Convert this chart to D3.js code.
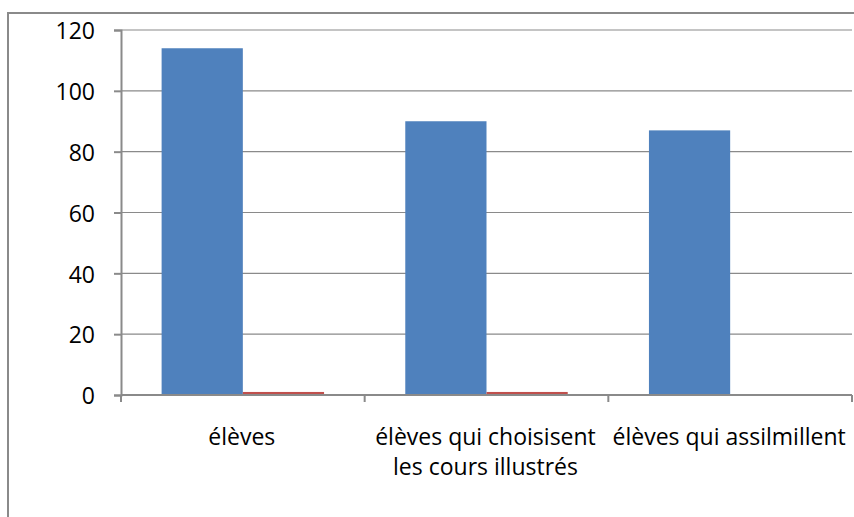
<!DOCTYPE html>
<html>
<head>
<meta charset="utf-8">
<script src="https://cdn.jsdelivr.net/npm/d3@7"></script>
<style>
  body { margin: 0; background: #fff; }
  svg text { font-family: "Open Sans", sans-serif; fill: #000; }
</style>
</head>
<body>
<div id="chart"></div>
<script>
// data
var categories = ["élèves", "élèves qui choisisent les cours illustrés", "élèves qui assilmillent"]
var categoryLines = [["élèves"], ["élèves qui choisisent", "les cours illustrés"], ["élèves qui assilmillent"]]
var series1 = [114, 90, 87]
var series2 = [1, 1, 0]
var yTicks = [0, 20, 40, 60, 80, 100, 120]

var W = 854, H = 517
var svg = d3.select('#chart').append('svg').attr('width', W).attr('height', H)

// outer chart border (runs off the right and bottom edges)
svg.append('rect')
  .attr('x', 8).attr('y', 13).attr('width', W + 10).attr('height', H + 10)
  .attr('fill', 'none').attr('stroke', '#8a8a8a').attr('stroke-width', 2)

var m = {left: 121, right: 2, top: 30, bottom: 122}
var w = W - m.left - m.right, h = H - m.top - m.bottom
var g = svg.append('g').attr('transform', 'translate(' + m.left + ',' + m.top + ')')

var x = d3.scaleBand().domain(categories).range([0, w]).paddingInner(0).paddingOuter(0)
var y = d3.scaleLinear().domain([0, 120]).range([h, 0])

// gridlines
g.selectAll('.grid').data(yTicks.slice(1)).enter().append('line')
  .attr('x1', 0).attr('x2', w)
  .attr('y1', function(d) { return y(d) }).attr('y2', function(d) { return y(d) })
  .attr('stroke', '#8a8a8a').attr('stroke-width', 1.2)

var barW = x.bandwidth() / 3
g.selectAll('.s1').data(series1).enter().append('rect')
  .attr('x', function(d, i) { return x(categories[i]) + barW / 2 })
  .attr('y', function(d) { return y(d) })
  .attr('width', barW).attr('height', function(d) { return h - y(d) })
  .attr('fill', '#4f81bd')

g.selectAll('.s2').data(series2).enter().append('rect')
  .attr('x', function(d, i) { return x(categories[i]) + barW * 1.5 })
  .attr('y', function(d) { return y(d) })
  .attr('width', barW).attr('height', function(d) { return h - y(d) })
  .attr('fill', '#c0504d')

// y axis
var yAxis = g.append('g').call(d3.axisLeft(y).tickValues(yTicks).tickSize(7).tickPadding(19))
yAxis.select('.domain').attr('stroke', '#8a8a8a').attr('stroke-width', 2)
yAxis.selectAll('.tick line').attr('stroke', '#8a8a8a').attr('stroke-width', 2)
yAxis.selectAll('.tick text').style('font-size', '23px').style('font-family', '"Open Sans", sans-serif')
  .attr('fill', '#000').attr('dy', '0.38em')

// x axis
var xAxis = g.append('g').attr('transform', 'translate(0,' + h + ')')
xAxis.append('line').attr('x1', 0).attr('x2', w).attr('stroke', '#8a8a8a').attr('stroke-width', 2)
xAxis.selectAll('.xt').data(categories).enter().append('line')
  .attr('x1', function(d) { return x(d) + x.bandwidth() }).attr('x2', function(d) { return x(d) + x.bandwidth() })
  .attr('y1', 0).attr('y2', 7).attr('stroke', '#8a8a8a').attr('stroke-width', 2)
xAxis.append('line').attr('x1', 0).attr('x2', 0).attr('y1', 0).attr('y2', 7)
  .attr('stroke', '#8a8a8a').attr('stroke-width', 2)

var lbl = xAxis.selectAll('.xl').data(categories).enter().append('text')
  .attr('text-anchor', 'middle').style('font-size', '23px')
  .attr('transform', function(d) { return 'translate(' + (x(d) + x.bandwidth() / 2 - 1) + ',50)' })
lbl.selectAll('tspan').data(function(d, i) { return categoryLines[i] }).enter().append('tspan')
  .attr('x', 0).attr('dy', function(d, i) { return i ? 30 : 0 })
  .text(function(d) { return d })
</script>
</body>
</html>
